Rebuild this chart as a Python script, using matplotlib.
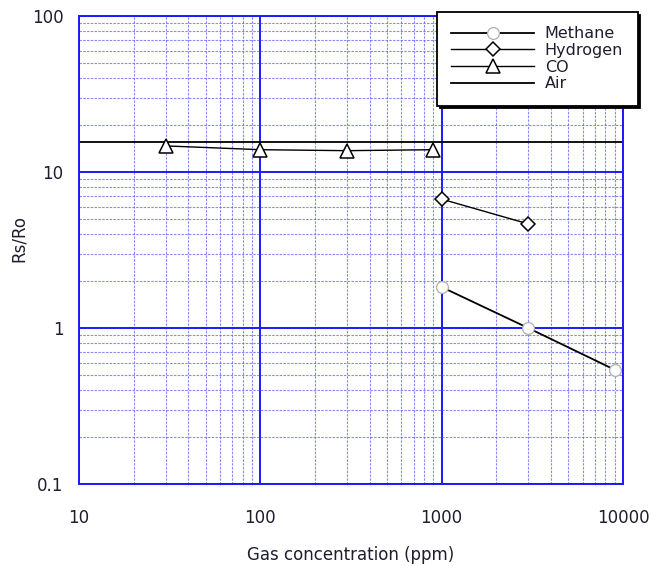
import matplotlib
matplotlib.use("Agg")
import matplotlib.pyplot as plt
from matplotlib.ticker import LogLocator, FixedLocator, FixedFormatter, NullFormatter

plt.rcParams['font.family'] = ['DejaVu Sans']

# Sensor response Rs/Ro versus gas concentration
methane_ppm = [1000, 3000, 9000]
methane_rs = [1.83, 1.0, 0.54]

hydrogen_ppm = [1000, 3000]
hydrogen_rs = [6.7, 4.65]

co_ppm = [30, 100, 300, 900]
co_rs = [14.7, 13.9, 13.7, 13.9]

air_ppm = [10, 10000]
air_rs = [15.6, 15.6]

x_ticks = [10, 100, 1000, 10000]
x_tick_labels = ["10", "100", "1000", "10000"]
y_ticks = [0.1, 1, 10, 100]
y_tick_labels = ["0.1", "1", "10", "100"]

W, H = 652, 566
fig = plt.figure(figsize=(W / 100, H / 100), dpi=100)
ax = fig.add_axes([79 / W, 1 - 484 / H, (623 - 79) / W, (484 - 16) / H])
ax.set_xscale('log')
ax.set_yscale('log')
ax.set_xlim(10, 10000)
ax.set_ylim(0.1, 100)

blue = '#1a1aff'
text_col = '#1e1e30'
ax.xaxis.set_major_locator(FixedLocator(x_ticks))
ax.xaxis.set_major_formatter(FixedFormatter(x_tick_labels))
ax.yaxis.set_major_locator(FixedLocator(y_ticks))
ax.yaxis.set_major_formatter(FixedFormatter(y_tick_labels))
ax.xaxis.set_minor_locator(LogLocator(base=10, subs=range(2, 10)))
ax.yaxis.set_minor_locator(LogLocator(base=10, subs=range(2, 10)))
ax.xaxis.set_minor_formatter(NullFormatter())
ax.yaxis.set_minor_formatter(NullFormatter())

ax.grid(which='major', color=blue, linewidth=1.4, linestyle='-')
ax.grid(which='minor', color='#6060ff', linewidth=0.8, linestyle=(0, (2.2, 1.2)), alpha=0.75)
ax.set_axisbelow(True)
for s in ax.spines.values():
    s.set_color(blue)
    s.set_linewidth(1.4)

ax.tick_params(which='both', length=0)
ax.tick_params(axis='x', pad=18, labelsize=12, labelcolor=text_col)
ax.tick_params(axis='y', pad=11, labelsize=12, labelcolor=text_col)

ax.plot(methane_ppm, methane_rs, color='black', linewidth=1.3, marker='o',
        markersize=8.5, markerfacecolor='white', markeredgecolor='#b0b0b0',
        markeredgewidth=0.9, label='Methane', zorder=3)
ax.plot(hydrogen_ppm, hydrogen_rs, color='black', linewidth=1.0, marker='D',
        markersize=6.8, markerfacecolor='white', markeredgecolor='black',
        markeredgewidth=1.1, label='Hydrogen', zorder=3)
ax.plot(co_ppm, co_rs, color='black', linewidth=1.0, marker='^',
        markersize=10.5, markerfacecolor='white', markeredgecolor='black',
        markeredgewidth=1.1, label='CO', zorder=3)
ax.plot(air_ppm, air_rs, color='black', linewidth=1.3, label='Air', zorder=2)

ax.set_xlabel('Gas concentration (ppm)', fontsize=12, color=text_col, labelpad=14)
ax.set_ylabel('Rs/Ro', fontsize=12, color=text_col)
ax.yaxis.set_label_coords((28 - 79) / 544, (484 - 239) / 468)

leg = ax.legend(loc='upper left', bbox_to_anchor=(437 / W, 1 - 12 / H),
                bbox_transform=fig.transFigure, numpoints=1, fontsize=11.5,
                handlelength=5.2, handletextpad=0.65, labelspacing=0.1,
                borderpad=0.9, borderaxespad=0, fancybox=False, framealpha=1,
                edgecolor='black', shadow={'color': 'black', 'alpha': 1})
leg.get_frame().set_linewidth(1.3)
for t in leg.get_texts():
    t.set_color(text_col)

fig.savefig('out.png', dpi=100)
